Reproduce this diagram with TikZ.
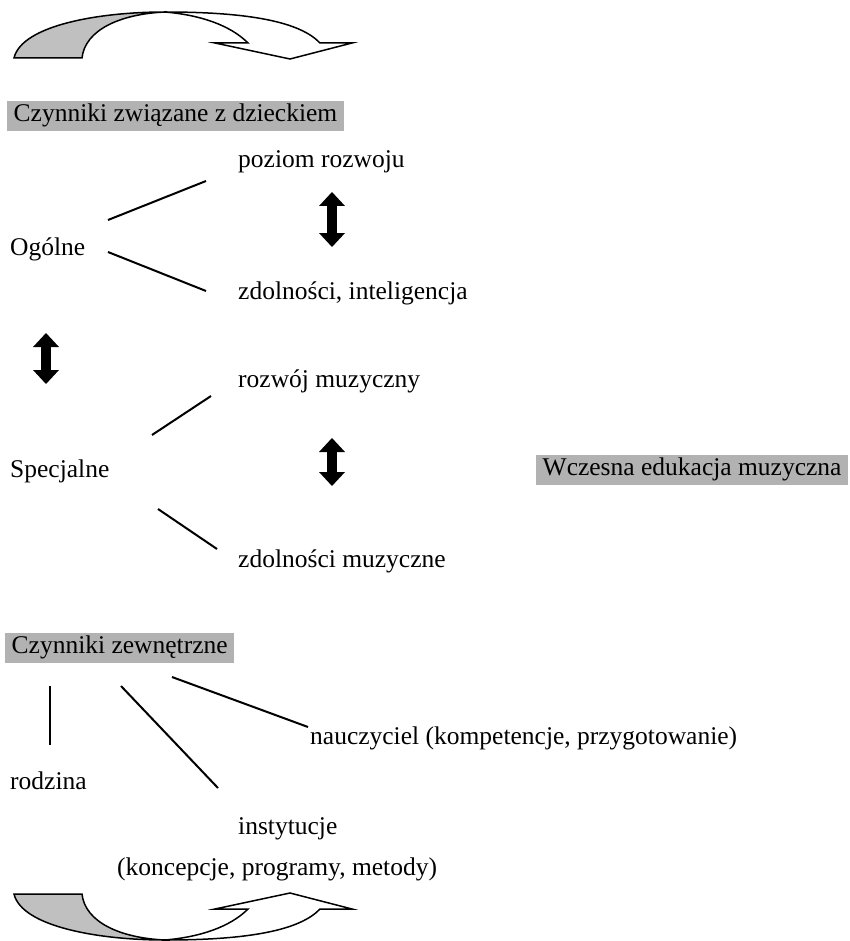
\documentclass[tikz,border=0pt]{standalone}
\usepackage{fontspec}
\setmainfont{Liberation Serif}
\usetikzlibrary{arrows.meta}
\definecolor{boxgray}{HTML}{B2B2B2}
\definecolor{ribgray}{HTML}{C0C0C0}
\begin{document}
\begin{tikzpicture}[x=1pt,y=-1pt,
  txt/.style={anchor=west,inner sep=0pt,text height=17pt,text depth=5.5pt,font=\fontsize{25.5}{30}\selectfont},
  plain/.style={txt,yshift=-2pt},
  graybox/.style={txt,fill=boxgray,inner xsep=6.5pt,inner ysep=3.5pt},
  link/.style={line width=2pt},
  dblarrow/.style={line width=10pt,{Triangle[width=26pt,length=14pt,line width=0pt]}-{Triangle[width=26pt,length=14pt,line width=0pt]}},
  ribbon/.style={draw=black,line width=1.5pt,line join=miter}]
\useasboundingbox (0,0) rectangle (850,941);

% top curved arrow
\path[ribbon,fill=ribgray] (14,58) .. controls (22,25) and (100,12) .. (165,12)
  .. controls (120,14) and (85,30) .. (82,58) -- cycle;
\path[ribbon,fill=white] (165,12) .. controls (250,12) and (300,22) .. (320,43)
  -- (352,43) -- (290,59) -- (215,43) -- (248,43)
  .. controls (230,25) and (200,15) .. (165,12) -- cycle;

% bottom curved arrow
\path[ribbon,fill=ribgray] (14,894) .. controls (22,927) and (100,940) .. (165,940)
  .. controls (120,938) and (85,922) .. (82,894) -- cycle;
\path[ribbon,fill=white] (165,940) .. controls (250,940) and (300,930) .. (320,909)
  -- (352,909) -- (290,893) -- (215,909) -- (248,909)
  .. controls (230,927) and (200,937) .. (165,940) -- cycle;

% nodes
\node[graybox] (cz) at (7,116) {Czynniki związane z dzieckiem};
\node[plain] (poz) at (238,160) {poziom rozwoju};
\node[plain] (og) at (10,248) {Ogólne};
\node[plain] (zdi) at (238,292) {zdolności, inteligencja};
\node[plain] (roz) at (238,380) {rozwój muzyczny};
\node[plain] (sp) at (10,470) {Specjalne};
\node[plain] (zdm) at (238,560) {zdolności muzyczne};
\node[graybox] (wem) at (536,470) {Wczesna edukacja muzyczna};
\node[graybox] (cze) at (5,648) {Czynniki zewnętrzne};
\node[plain] (nau) at (310,737) {nauczyciel (kompetencje, przygotowanie)};
\node[plain] (rod) at (10,782) {rodzina};
\node[plain] (ins) at (238,827) {instytucje};
\node[plain] (kon) at (117,868) {(koncepcje, programy, metody)};

% connector end points
\coordinate (l1a) at (108,220); \coordinate (l1b) at (206,181);
\coordinate (l2a) at (108,252); \coordinate (l2b) at (206,291);
\coordinate (l3a) at (152,435); \coordinate (l3b) at (211,396);
\coordinate (l4a) at (158,509); \coordinate (l4b) at (217,549);
\coordinate (l5a) at (50,686);  \coordinate (l5b) at (50,745);
\coordinate (l6a) at (121,686); \coordinate (l6b) at (218,788);
\coordinate (l7a) at (172,677); \coordinate (l7b) at (308,727);

\draw[link] (l1a) -- (l1b);
\draw[link] (l2a) -- (l2b);
\draw[link] (l3a) -- (l3b);
\draw[link] (l4a) -- (l4b);
\draw[link] (l5a) -- (l5b);
\draw[link] (l6a) -- (l6b);
\draw[link] (l7a) -- (l7b);

% double arrows
\coordinate (d1a) at (332,192); \coordinate (d1b) at (332,247);
\coordinate (d2a) at (46,333);  \coordinate (d2b) at (46,384);
\coordinate (d3a) at (332,438); \coordinate (d3b) at (332,486);
\draw[dblarrow] (d1a) -- (d1b);
\draw[dblarrow] (d2a) -- (d2b);
\draw[dblarrow] (d3a) -- (d3b);
\end{tikzpicture}
\end{document}
